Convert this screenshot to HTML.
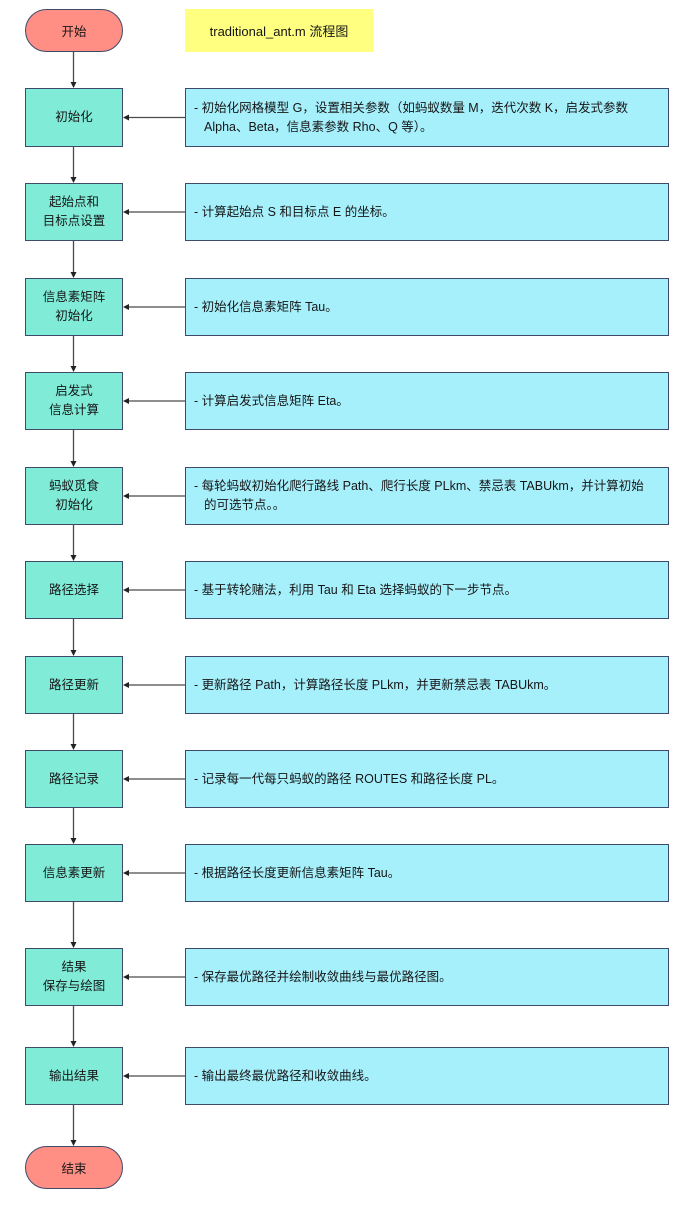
<!DOCTYPE html>
<html><head><meta charset="utf-8">
<style>
html,body{margin:0;padding:0;background:#fff;}
body{width:700px;height:1209px;position:relative;overflow:hidden;font-family:"Liberation Sans","Noto Sans CJK SC",sans-serif;color:#161616;}
.b{position:absolute;box-sizing:border-box;border:1.3px solid #3e4a6a;display:flex;align-items:center;font-size:12.5px;line-height:19px;}
.l{left:25px;width:98px;background:#80ecd8;justify-content:center;text-align:center;}
.r{left:185px;width:484px;background:#a6f0fc;padding-left:8px;}
.r span{display:block;padding-left:10px;text-indent:-10px;}
.pill{position:absolute;left:25px;width:98px;height:43px;box-sizing:border-box;border:1.3px solid #3e4a6a;border-radius:22px;background:#ff8f85;display:flex;align-items:center;justify-content:center;font-size:12.5px;}
.title{position:absolute;left:185px;top:9px;width:188px;height:43px;background:#ffff80;display:flex;align-items:center;justify-content:center;font-size:13px;}
svg{position:absolute;left:0;top:0;}
</style></head><body>
<div class="pill" style="top:9px;">开始</div>
<div class="title">traditional_ant.m 流程图</div>

<div class="b l" style="top:88px;height:59px;">初始化</div>
<div class="b r" style="top:88px;height:59px;"><span>- 初始化网格模型 G，设置相关参数（如蚂蚁数量 M，迭代次数 K，启发式参数<br>Alpha、Beta，信息素参数 Rho、Q 等）。</span></div>

<div class="b l" style="top:183px;height:58px;">起始点和<br>目标点设置</div>
<div class="b r" style="top:183px;height:58px;"><span>- 计算起始点 S 和目标点 E 的坐标。</span></div>

<div class="b l" style="top:278px;height:58px;">信息素矩阵<br>初始化</div>
<div class="b r" style="top:278px;height:58px;"><span>- 初始化信息素矩阵 Tau。</span></div>

<div class="b l" style="top:372px;height:58px;">启发式<br>信息计算</div>
<div class="b r" style="top:372px;height:58px;"><span>- 计算启发式信息矩阵 Eta。</span></div>

<div class="b l" style="top:467px;height:58px;">蚂蚁觅食<br>初始化</div>
<div class="b r" style="top:467px;height:58px;"><span>- 每轮蚂蚁初始化爬行路线 Path、爬行长度 PLkm、禁忌表 TABUkm，并计算初始<br>的可选节点。。</span></div>

<div class="b l" style="top:561px;height:58px;">路径选择</div>
<div class="b r" style="top:561px;height:58px;"><span>- 基于转轮赌法，利用 Tau 和 Eta 选择蚂蚁的下一步节点。</span></div>

<div class="b l" style="top:656px;height:58px;">路径更新</div>
<div class="b r" style="top:656px;height:58px;"><span>- 更新路径 Path，计算路径长度 PLkm，并更新禁忌表 TABUkm。</span></div>

<div class="b l" style="top:750px;height:58px;">路径记录</div>
<div class="b r" style="top:750px;height:58px;"><span>- 记录每一代每只蚂蚁的路径 ROUTES 和路径长度 PL。</span></div>

<div class="b l" style="top:844px;height:58px;">信息素更新</div>
<div class="b r" style="top:844px;height:58px;"><span>- 根据路径长度更新信息素矩阵 Tau。</span></div>

<div class="b l" style="top:948px;height:58px;">结果<br>保存与绘图</div>
<div class="b r" style="top:948px;height:58px;"><span>- 保存最优路径并绘制收敛曲线与最优路径图。</span></div>

<div class="b l" style="top:1047px;height:58px;">输出结果</div>
<div class="b r" style="top:1047px;height:58px;"><span>- 输出最终最优路径和收敛曲线。</span></div>

<div class="pill" style="top:1146px;">结束</div>

<svg width="700" height="1209" viewBox="0 0 700 1209">
<g stroke="#4a4a4a" stroke-width="1.3" fill="none">
<line x1="73.5" y1="52" x2="73.5" y2="83"/>
<line x1="73.5" y1="147" x2="73.5" y2="178"/>
<line x1="73.5" y1="241" x2="73.5" y2="273"/>
<line x1="73.5" y1="336" x2="73.5" y2="367"/>
<line x1="73.5" y1="430" x2="73.5" y2="462"/>
<line x1="73.5" y1="525" x2="73.5" y2="556"/>
<line x1="73.5" y1="619" x2="73.5" y2="651"/>
<line x1="73.5" y1="714" x2="73.5" y2="745"/>
<line x1="73.5" y1="808" x2="73.5" y2="839"/>
<line x1="73.5" y1="902" x2="73.5" y2="943"/>
<line x1="73.5" y1="1006" x2="73.5" y2="1042"/>
<line x1="73.5" y1="1105" x2="73.5" y2="1141"/>
<line x1="185" y1="117.5" x2="128" y2="117.5"/>
<line x1="185" y1="212" x2="128" y2="212"/>
<line x1="185" y1="307" x2="128" y2="307"/>
<line x1="185" y1="401" x2="128" y2="401"/>
<line x1="185" y1="496" x2="128" y2="496"/>
<line x1="185" y1="590" x2="128" y2="590"/>
<line x1="185" y1="685" x2="128" y2="685"/>
<line x1="185" y1="779" x2="128" y2="779"/>
<line x1="185" y1="873" x2="128" y2="873"/>
<line x1="185" y1="977" x2="128" y2="977"/>
<line x1="185" y1="1076" x2="128" y2="1076"/>
</g>
<g fill="#222">
<polygon points="70.5,82 76.5,82 73.5,88"/>
<polygon points="70.5,177 76.5,177 73.5,183"/>
<polygon points="70.5,272 76.5,272 73.5,278"/>
<polygon points="70.5,366 76.5,366 73.5,372"/>
<polygon points="70.5,461 76.5,461 73.5,467"/>
<polygon points="70.5,555 76.5,555 73.5,561"/>
<polygon points="70.5,650 76.5,650 73.5,656"/>
<polygon points="70.5,744 76.5,744 73.5,750"/>
<polygon points="70.5,838 76.5,838 73.5,844"/>
<polygon points="70.5,942 76.5,942 73.5,948"/>
<polygon points="70.5,1041 76.5,1041 73.5,1047"/>
<polygon points="70.5,1140 76.5,1140 73.5,1146"/>
<polygon points="123,117.5 129,114.5 129,120.5"/>
<polygon points="123,212 129,209 129,215"/>
<polygon points="123,307 129,304 129,310"/>
<polygon points="123,401 129,398 129,404"/>
<polygon points="123,496 129,493 129,499"/>
<polygon points="123,590 129,587 129,593"/>
<polygon points="123,685 129,682 129,688"/>
<polygon points="123,779 129,776 129,782"/>
<polygon points="123,873 129,870 129,876"/>
<polygon points="123,977 129,974 129,980"/>
<polygon points="123,1076 129,1073 129,1079"/>
</g>
</svg>
</body></html>
